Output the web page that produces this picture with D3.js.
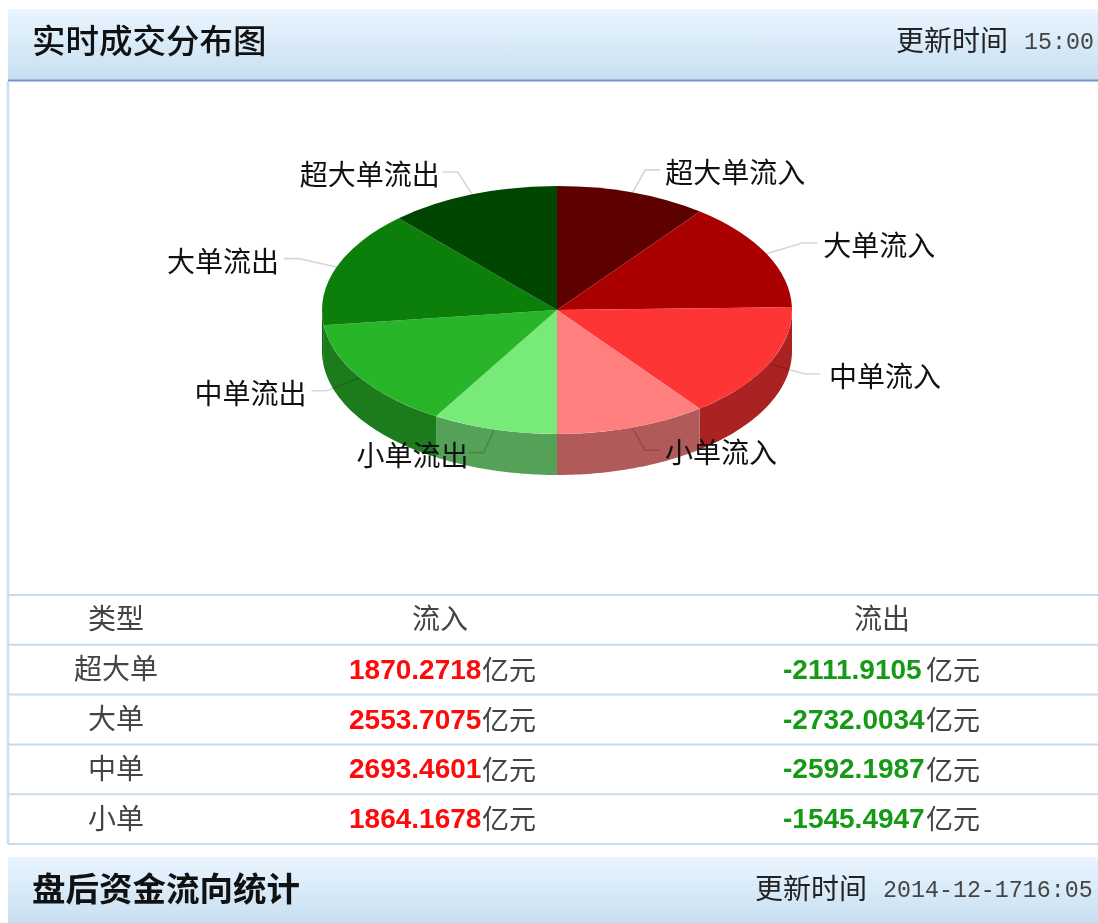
<!DOCTYPE html>
<html>
<head>
<meta charset="utf-8">
<script src="https://cdn.jsdelivr.net/npm/d3@7"></script>
<style>
html, body { margin: 0; padding: 0; background: #fff; }
svg { display: block; filter: blur(0.45px); }
</style>
</head>
<body>
<svg id="chart" width="1098" height="923"></svg>
<script>
const sliceNames = ["超大单流入", "大单流入", "中单流入", "小单流入", "小单流出", "中单流出", "大单流出", "超大单流出"];
const sliceValues = [1870.2718, 2553.7075, 2693.4601, 1864.1678, 1545.4947, 2592.1987, 2732.0034, 2111.9105];
const sliceColors = ["#5c0000", "#ab0000", "#fd3535", "#ff7f7f", "#78ea78", "#29b52a", "#0c7e0a", "#004600"];
const sideColors = ["#5c0000", "#ab0000", "#aa2222", "#b05a5a", "#55a158", "#1c7b1c", "#0a6a0a", "#004600"];

const tableHeaders = ["类型", "流入", "流出"];
const rowNames = ["超大单", "大单", "中单", "小单"];
const inflowTexts = ["1870.2718", "2553.7075", "2693.4601", "1864.1678"];
const outflowTexts = ["-2111.9105", "-2732.0034", "-2592.1987", "-1545.4947"];
const unitText = "亿元";

const CJK = "'Noto Sans CJK SC', sans-serif";
const LATIN = "'Liberation Sans', Arial, sans-serif";
const MONO = "'Liberation Mono', monospace";

const LEFT = 8;
const WIDTH = 1098;
const CX = 557, CY = 310, RX = 235, RY = 124, DEPTH = 41;
const LABEL_RX = 275, LABEL_RY = 148;
// small per-label shift, the original layout is not quite regular
const labelNudge = [0, 1, 4, 0, 5, 0, 0, 2];

const svg = d3.select("svg#chart");

const defs = svg.append("defs");
const grad = defs.append("linearGradient")
	.attr("id", "headbg")
	.attr("x1", 0).attr("y1", 0).attr("x2", 0).attr("y2", 1);
grad.append("stop").attr("offset", "0%").attr("stop-color", "#e9f5ff");
grad.append("stop").attr("offset", "100%").attr("stop-color", "#c8dff1");

// panel header bars
function drawHeader(y, h, title, weight, stamp, stampLabelX, stampX) {
	svg.append("rect")
		.attr("x", LEFT)
		.attr("y", y)
		.attr("width", WIDTH - LEFT)
		.attr("height", h)
		.attr("fill", "url(#headbg)");
	svg.append("text")
		.text(title)
		.attr("x", 32)
		.attr("y", y + 32)
		.attr("dy", "0.36em")
		.attr("font-family", CJK)
		.attr("font-size", 33.5)
		.attr("font-weight", weight)
		.attr("fill", "#111");
	svg.append("text")
		.text("更新时间")
		.attr("x", stampLabelX)
		.attr("y", y + 32)
		.attr("dy", "0.36em")
		.attr("font-family", CJK)
		.attr("font-size", 28)
		.attr("fill", "#222");
	svg.append("text")
		.text(stamp)
		.attr("x", stampX)
		.attr("y", y + 32)
		.attr("dy", "0.34em")
		.attr("font-family", MONO)
		.attr("font-size", 23.3)
		.attr("fill", "#444");
}

drawHeader(9, 71, "实时成交分布图", 500, "15:00", 896, 1024);
drawHeader(857, 66, "盘后资金流向统计", 700, "2014-12-1716:05", 755, 883);

svg.append("rect")
	.attr("x", LEFT).attr("y", 79.5)
	.attr("width", WIDTH - LEFT).attr("height", 2)
	.attr("fill", "#6d96cf");

// panel outline
svg.append("line")
	.attr("x1", LEFT).attr("x2", LEFT)
	.attr("y1", 81).attr("y2", 844)
	.attr("stroke", "#c9dff2").attr("stroke-width", 2.5);

// pie
const pie = d3.pie().sort(null).value(d => d.value).startAngle(0).endAngle(2 * Math.PI);
const slices = pie(sliceNames.map((name, i) => ({ name: name, value: sliceValues[i], i: i })));

const arc = d3.arc().innerRadius(0).outerRadius(RX);

function rimX(a) { return CX + RX * Math.sin(a); }
function rimY(a) { return CY - RY * Math.cos(a); }

// wall of a slice, only the part on the near side of the disc
function sidePath(a0, a1) {
	const from = Math.max(a0, Math.PI / 2);
	const to = Math.min(a1, Math.PI * 1.5);
	if (to <= from) return null;
	const p = d3.path();
	p.moveTo(rimX(from), rimY(from));
	const steps = 40;
	for (let s = 1; s <= steps; s++) {
		const a = from + (to - from) * s / steps;
		p.lineTo(rimX(a), rimY(a));
	}
	for (let s = steps; s >= 0; s--) {
		const a = from + (to - from) * s / steps;
		p.lineTo(rimX(a), rimY(a) + DEPTH);
	}
	p.closePath();
	return p.toString();
}

svg.append("g")
	.selectAll("path")
	.data(slices.filter(d => sidePath(d.startAngle, d.endAngle)))
	.join("path")
	.attr("d", d => sidePath(d.startAngle, d.endAngle))
	.attr("fill", d => sideColors[d.data.i]);

// leader lines, multiply so they darken over the walls
function midAngle(d) { return (d.startAngle + d.endAngle) / 2; }
function elbow(d) {
	const a = midAngle(d);
	return [CX + LABEL_RX * Math.sin(a), CY - LABEL_RY * Math.cos(a)];
}
function isRight(d) { return midAngle(d) < Math.PI; }

svg.append("g")
	.style("mix-blend-mode", "multiply")
	.selectAll("path")
	.data(slices)
	.join("path")
	.attr("d", d => {
		const e = elbow(d);
		const a = midAngle(d);
		return d3.line()([[rimX(a), rimY(a)], e, [e[0] + (isRight(d) ? 15 : -15), e[1]]]);
	})
	.attr("fill", "none")
	.attr("stroke", "#d6d6d6")
	.attr("stroke-width", 1.6);

svg.append("g")
	.attr("transform", `translate(${CX},${CY}) scale(1,${RY / RX})`)
	.selectAll("path")
	.data(slices)
	.join("path")
	.attr("d", arc)
	.attr("fill", d => sliceColors[d.data.i]);

svg.append("g")
	.selectAll("text")
	.data(slices)
	.join("text")
	.text(d => d.data.name)
	.attr("x", d => elbow(d)[0] + (isRight(d) ? 20 : -20) + labelNudge[d.data.i])
	.attr("y", d => elbow(d)[1] + 3)
	.attr("dy", "0.36em")
	.attr("text-anchor", d => isRight(d) ? "start" : "end")
	.attr("font-family", CJK)
	.attr("font-size", 28)
	.attr("fill", "#111");

// table
const rowScale = d3.scaleBand()
	.domain(d3.range(rowNames.length + 1))
	.range([595, 844]);
const colCenter = d3.scaleOrdinal().domain([0, 1, 2]).range([116, 440, 882]);
const amountX = d3.scaleOrdinal().domain([1, 2]).range([349, 783]);
const unitX = d3.scaleOrdinal().domain([1, 2]).range([482, 926]);

svg.append("g")
	.selectAll("line")
	.data(d3.range(rowNames.length + 2))
	.join("line")
	.attr("x1", LEFT).attr("x2", WIDTH)
	.attr("y1", i => 595 + i * rowScale.step())
	.attr("y2", i => 595 + i * rowScale.step())
	.attr("stroke", "#c5dcf0")
	.attr("stroke-width", 2);

function rowMid(i) { return rowScale(i) + rowScale.bandwidth() / 2 - 0.5; }

function cjkCell(text, x, y) {
	svg.append("text")
		.text(text)
		.attr("x", x)
		.attr("y", y)
		.attr("dy", "0.36em")
		.attr("text-anchor", "middle")
		.attr("font-family", CJK)
		.attr("font-size", 28)
		.attr("fill", "#444");
}

tableHeaders.forEach((h, c) => cjkCell(h, colCenter(c), rowMid(0)));

rowNames.forEach((name, i) => {
	const y = rowMid(i + 1);
	cjkCell(name, colCenter(0), y);
	[[inflowTexts[i], "#ff0a0a", 1], [outflowTexts[i], "#169a16", 2]].forEach(cell => {
		svg.append("text")
			.text(cell[0])
			.attr("x", amountX(cell[2]))
			.attr("y", y)
			.attr("dy", "0.34em")
			.attr("font-family", LATIN)
			.attr("font-weight", "bold")
			.attr("font-size", 28)
			.attr("fill", cell[1]);
		svg.append("text")
			.text(unitText)
			.attr("x", unitX(cell[2]))
			.attr("y", y + 1)
			.attr("dy", "0.36em")
			.attr("font-family", CJK)
			.attr("font-size", 27)
			.attr("fill", "#444");
	});
});
</script>
</body>
</html>
